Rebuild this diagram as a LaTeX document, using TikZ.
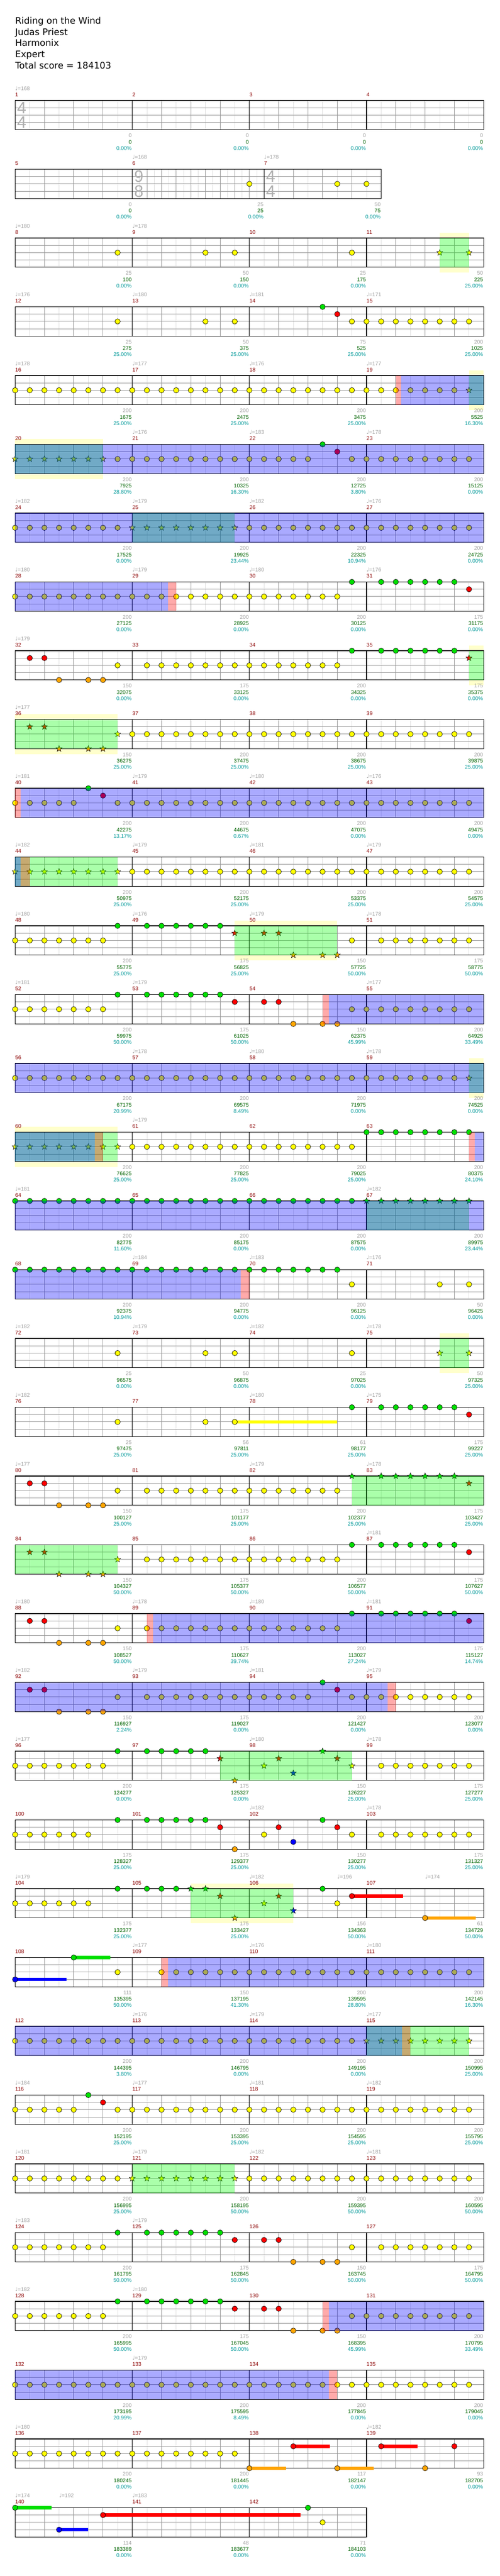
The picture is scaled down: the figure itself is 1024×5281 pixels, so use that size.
\documentclass[tikz,border=0pt]{standalone}
\usepackage{fontspec}
\setmainfont{DejaVu Sans}
\newfontfamily\lab{Liberation Sans}
\usetikzlibrary{shapes.geometric}
\definecolor{lane0}{RGB}{0,224,0}
\definecolor{lane1}{RGB}{255,0,0}
\definecolor{lane2}{RGB}{255,255,0}
\definecolor{lane3}{RGB}{0,0,255}
\definecolor{lane4}{RGB}{255,165,0}
\definecolor{ovg}{RGB}{0,255,0}
\definecolor{ovb}{RGB}{0,0,255}
\definecolor{ovr}{RGB}{255,0,0}
\definecolor{paley}{RGB}{255,255,204}
\definecolor{gridl}{RGB}{222,222,222}
\definecolor{gridm}{RGB}{150,150,150}
\definecolor{mred}{RGB}{139,0,0}
\definecolor{tgray}{RGB}{160,160,160}
\definecolor{sgreen}{RGB}{0,100,0}
\definecolor{pteal}{RGB}{0,153,153}
\definecolor{tsgray}{RGB}{175,175,175}
\tikzset{
  gl/.style={draw=gridl, line width=1pt},
  gm/.style={draw=gridm, line width=1pt},
  gk/.style={draw=black, line width=1.2pt},
  note/.style={circle, draw=black, line width=0.7pt, minimum size=11pt, inner sep=0pt},
  starn/.style={star, star points=5, star point ratio=2.4, draw=black, line width=0.6pt, minimum size=13pt, inner sep=0pt},
  lab/.style={anchor=east, inner sep=0pt, font=\lab\fontsize{11}{11}\selectfont},
  mnum/.style={anchor=west, inner sep=0pt, text=mred, font=\lab\fontsize{11}{11}\selectfont},
  tempo/.style={anchor=west, inner sep=0pt, text=tgray, font=\fontsize{11}{11}\selectfont},
  tsig/.style={inner sep=0pt, text=tsgray, font=\lab\fontsize{34}{34}\selectfont},
  title/.style={anchor=base west, inner sep=0pt, font=\fontsize{18.5}{23}\selectfont},
}
\newcommand\RY[1]{\pgfmathtruncatemacro\rowY{206+141*(#1-1)}}
\newcommand\Grid[2]{\RY{#1}\pgfmathtruncatemacro\rowR{31+240*#2}\pgfmathtruncatemacro\nE{8*#2-1}%
  \fill[white] (31,\rowY) rectangle (\rowR,\rowY+60);
  \foreach \k in {1,3,...,\nE} \draw[gl] (31+30*\k,\rowY) -- (31+30*\k,\rowY+60);
  \foreach \k in {1,2,3} \draw[gm] (31,\rowY+15*\k) -- (\rowR,\rowY+15*\k);
  \foreach \k in {2,4,...,\nE} {\pgfmathtruncatemacro\mm{mod(\k,8)}\ifnum\mm=0 \draw[gk] (31+30*\k,\rowY) -- (31+30*\k,\rowY+60);\else \draw[gm] (31+30*\k,\rowY) -- (31+30*\k,\rowY+60);\fi}
  \draw[gk] (31,\rowY) rectangle (\rowR,\rowY+60);}
\newcommand\Mn[3]{\RY{#1}\foreach \i in {1,...,#3}{\pgfmathtruncatemacro\mx{31+240*(\i-1)}\pgfmathtruncatemacro\mnum{#2+\i-1}\node[mnum] (m\mnum) at (\mx,\rowY-12) {\mnum};}}
\newcommand\Std[3]{\Grid{#1}{#3}\Mn{#1}{#2}{#3}}
\newcommand\Nt[3]{\RY{#1}\foreach \p in {#3} \node[note,fill=lane#2] (n#1-#2-\p) at (31+30*\p,\rowY+15*#2) {};}
\newcommand\St[3]{\RY{#1}\foreach \p in {#3} \node[starn,fill=lane#2] (s#1-#2-\p) at (31+30*\p,\rowY+15*#2) {};}
\newcommand\Su[4]{\RY{#1}\fill[lane#2] (31+30*#3,\rowY+15*#2-3.5) rectangle (#4,\rowY+15*#2+3.5); \node[note,fill=lane#2] (u#1-#2-#3) at (31+30*#3,\rowY+15*#2) {};}
\newcommand\Rg[4]{\RY{#1}\fill[#2,fill opacity=0.333] (#3,\rowY) rectangle (#4,\rowY+60);}
\newcommand\Yl[3]{\RY{#1}\fill[paley] (#2,\rowY-11) rectangle (#3,\rowY+71);}
\newcommand\Tp[2]{\RY{#1}\foreach \tx/\tb in {#2} \node[tempo] (t#1-\tx) at (\tx,\rowY-25) {♩{\lab=\tb}};}
\newcommand\TS[4]{\RY{#1}\node[tsig] (ts#1-#3) at (#2,\rowY+15) {#3}; \node[tsig] (tsb#1-#4) at (#2,\rowY+45) {#4};}
\newcommand\LabsF[2]{\RY{#1}\foreach \ga/\gb/\gc [count=\ci] in {#2}{\pgfmathtruncatemacro\lx{31+240*\ci}%
  \node[lab,text=tgray] (g#1-\ci) at (\lx-1,\rowY+72) {\ga};
  \node[lab,text=sgreen] (c#1-\ci) at (\lx-1,\rowY+85) {\gb};
  \node[lab,text=pteal] (p#1-\ci) at (\lx-1,\rowY+98) {\gc\%};}}
\newcommand\LabsX[2]{\RY{#1}\foreach \lx/\ga/\gb/\gc in {#2}{%
  \node[lab,text=tgray] (g#1-\lx) at (\lx-1,\rowY+72) {\ga};
  \node[lab,text=sgreen] (c#1-\lx) at (\lx-1,\rowY+85) {\gb};
  \node[lab,text=pteal] (p#1-\lx) at (\lx-1,\rowY+98) {\gc\%};}}
\begin{document}
\begin{tikzpicture}[x=1pt,y=-1pt]
\useasboundingbox (0,0) rectangle (1024,5281);
\fill[white] (0,0) rectangle (1024,5281);
\node[title] (ti1) at (31,49) {Riding on the Wind};
\node[title] (ti2) at (31,72) {Judas Priest};
\node[title] (ti3) at (31,95) {Harmonix};
\node[title] (ti4) at (31,118) {Expert};
\node[title] (ti5) at (31,141) {Total score = 184103};
% Row 1
\Std{1}{1}{4}
\TS{1}{44.5}{4}{4}
\Tp{1}{31/168}
\LabsF{1}{0/0/0.00,0/0/0.00,0/0/0.00,0/0/0.00}
% Row 2
\RY{2}
\fill[white] (31,\rowY) rectangle (781,\rowY+60);
\foreach \x in {61,121,181,241,286,316,346,376,406,436,466,496,526,571,631,691,751} \draw[gl] (\x,\rowY) -- (\x,\rowY+60);
\foreach \k in {1,2,3} \draw[gm] (31,\rowY+15*\k) -- (781,\rowY+15*\k);
\foreach \x in {91,151,211,301,331,361,391,421,451,481,511,601,661,721} \draw[gm] (\x,\rowY) -- (\x,\rowY+60);
\foreach \x in {271,541} \draw[gk] (\x,\rowY) -- (\x,\rowY+60);
\draw[gk] (31,\rowY) rectangle (781,\rowY+60);
\node[mnum] (m5) at (31,\rowY-12) {5};
\node[mnum] (m6) at (271,\rowY-12) {6};
\node[mnum] (m7) at (541,\rowY-12) {7};
\TS{2}{284.5}{9}{8}
\TS{2}{554.5}{4}{4}
\Tp{2}{271/168,541/178}
\Nt{2}{2}{16,22,24}
\LabsX{2}{271/0/0/0.00,541/25/25/0.00,781/50/75/0.00}
% Row 3
\Yl{3}{901}{961}
\Std{3}{8}{4}
\Tp{3}{31/180,271/178}
\Nt{3}{2}{7,13,15,23}
\St{3}{2}{29,31}
\Rg{3}{ovg}{901}{961}
\LabsF{3}{25/100/0.00,50/150/0.00,25/175/0.00,50/225/25.00}
% Row 4
\Std{4}{12}{4}
\Tp{4}{31/176,271/180,511/181,751/171}
\Nt{4}{2}{7,13,15,23,24,...,31}
\Nt{4}{0}{21}
\Nt{4}{1}{22}
\LabsF{4}{25/275/25.00,50/375/25.00,75/525/25.00,200/1025/25.00}
% Row 5
\Yl{5}{961}{991}
\Std{5}{16}{4}
\Tp{5}{31/178,271/177,511/176,751/177}
\Nt{5}{2}{0,1,...,30}
\St{5}{2}{31}
\Rg{5}{ovg}{961}{991}
\Rg{5}{ovr}{811}{822}
\Rg{5}{ovb}{822}{991}
\LabsF{5}{200/1675/25.00,200/2475/25.00,200/3475/25.00,200/5525/16.30}
% Row 6
\Yl{6}{31}{211}
\Std{6}{20}{4}
\Tp{6}{271/176,511/183,751/178}
\St{6}{2}{0,1,...,6}
\Nt{6}{2}{7,8,...,20,23,24,...,31}
\Nt{6}{0}{21}
\Nt{6}{1}{22}
\Rg{6}{ovg}{31}{211}
\Rg{6}{ovb}{31}{991}
\LabsF{6}{200/7925/28.80,200/10325/16.30,200/12725/3.80,200/15125/0.00}
% Row 7
\Std{7}{24}{4}
\Tp{7}{31/182,271/179,511/182,751/176}
\Nt{7}{2}{0,1,...,7,16,17,...,31}
\St{7}{2}{8,9,...,15}
\Rg{7}{ovg}{271}{481}
\Rg{7}{ovb}{31}{991}
\LabsF{7}{200/17525/0.00,200/19925/23.44,200/22325/10.94,200/24725/0.00}
% Row 8
\Std{8}{28}{4}
\Tp{8}{31/180,271/179,511/180,751/176}
\Nt{8}{2}{0,1,...,22}
\Nt{8}{0}{23,25,26,...,30}
\Nt{8}{1}{31}
\Rg{8}{ovb}{31}{344}
\Rg{8}{ovr}{344}{361}
\LabsF{8}{200/27125/0.00,200/28925/0.00,200/30125/0.00,175/31175/0.00}
% Row 9
\Yl{9}{961}{991}
\Std{9}{32}{4}
\Tp{9}{31/179}
\Nt{9}{1}{1,2}
\Nt{9}{4}{3,5,6}
\Nt{9}{2}{7,9,10,...,22}
\Nt{9}{0}{23,25,26,...,30}
\St{9}{1}{31}
\Rg{9}{ovg}{961}{991}
\LabsF{9}{150/32075/0.00,175/33125/0.00,200/34325/0.00,175/35375/0.00}
% Row 10
\Yl{10}{31}{241}
\Std{10}{36}{4}
\Tp{10}{31/177}
\St{10}{1}{1,2}
\St{10}{4}{3,5,6}
\St{10}{2}{7}
\Nt{10}{2}{8,9,...,31}
\Rg{10}{ovg}{31}{241}
\LabsF{10}{150/36275/25.00,200/37475/25.00,200/38675/25.00,200/39875/25.00}
% Row 11
\Std{11}{40}{4}
\Tp{11}{31/181,271/179,511/180,751/176}
\Nt{11}{2}{0,1,...,4,7,8,...,31}
\Nt{11}{0}{5}
\Nt{11}{1}{6}
\Rg{11}{ovr}{31}{42}
\Rg{11}{ovb}{42}{991}
\LabsF{11}{200/42275/13.17,200/44675/0.67,200/47075/0.00,200/49475/0.00}
% Row 12
\Std{12}{44}{4}
\Tp{12}{31/182,271/179,511/181,751/179}
\St{12}{2}{0,1,...,7}
\Nt{12}{2}{8,9,...,31}
\Rg{12}{ovg}{31}{241}
\Rg{12}{ovb}{31}{42}
\Rg{12}{ovr}{42}{61}
\LabsF{12}{200/50975/25.00,200/52175/25.00,200/53375/25.00,200/54575/25.00}
% Row 13
\Yl{13}{481}{691}
\Std{13}{48}{4}
\Tp{13}{31/180,271/176,511/179,751/178}
\Nt{13}{2}{0,1,...,6,23,25,26,...,31}
\Nt{13}{0}{7,9,10,...,14}
\St{13}{1}{15,17,18}
\St{13}{4}{19,21,22}
\Rg{13}{ovg}{481}{691}
\LabsF{13}{200/55775/25.00,175/56825/25.00,150/57725/50.00,175/58775/50.00}
% Row 14
\Std{14}{52}{4}
\Tp{14}{31/181,271/179,751/177}
\Nt{14}{2}{0,1,...,6,23,24,...,31}
\Nt{14}{0}{7,9,10,...,14}
\Nt{14}{1}{15,17,18}
\Nt{14}{4}{19,21,22}
\Rg{14}{ovr}{661}{674}
\Rg{14}{ovb}{674}{991}
\LabsF{14}{200/59975/50.00,175/61025/50.00,150/62375/45.99,200/64925/33.49}
% Row 15
\Yl{15}{961}{991}
\Std{15}{56}{4}
\Tp{15}{271/178,511/180,751/178}
\Nt{15}{2}{0,1,...,30}
\St{15}{2}{31}
\Rg{15}{ovg}{961}{991}
\Rg{15}{ovb}{31}{991}
\LabsF{15}{200/67175/20.99,200/69575/8.49,200/71975/0.00,200/74525/0.00}
% Row 16
\Yl{16}{31}{241}
\Std{16}{60}{4}
\Tp{16}{271/179}
\St{16}{2}{0,1,...,7}
\Nt{16}{2}{8,9,...,23}
\Nt{16}{0}{24,25,...,31}
\Rg{16}{ovg}{31}{241}
\Rg{16}{ovb}{31}{194}
\Rg{16}{ovr}{194}{211}
\Rg{16}{ovr}{961}{973}
\Rg{16}{ovb}{973}{991}
\LabsF{16}{200/76625/25.00,200/77825/25.00,200/79025/25.00,200/80375/24.10}
% Row 17
\Std{17}{64}{4}
\Tp{17}{31/181,751/182}
\Nt{17}{0}{0,1,...,23}
\St{17}{0}{24,25,...,31}
\Rg{17}{ovg}{751}{961}
\Rg{17}{ovb}{31}{991}
\LabsF{17}{200/82775/11.60,200/85175/0.00,200/87575/0.00,200/89975/23.44}
% Row 18
\Std{18}{68}{4}
\Tp{18}{271/184,511/183,751/176}
\Nt{18}{0}{0,1,...,22}
\Nt{18}{2}{23,29,31}
\Rg{18}{ovb}{31}{493}
\Rg{18}{ovr}{493}{511}
\LabsF{18}{200/92375/10.94,200/94775/0.00,200/96125/0.00,50/96425/0.00}
% Row 19
\Yl{19}{901}{961}
\Std{19}{72}{4}
\Tp{19}{31/182,271/179,511/182,751/178}
\Nt{19}{2}{7,13,15,23}
\St{19}{2}{29,31}
\Rg{19}{ovg}{901}{961}
\LabsF{19}{25/96575/0.00,50/96875/0.00,25/97025/0.00,50/97325/25.00}
% Row 20
\Std{20}{76}{4}
\Tp{20}{31/182,511/180,751/175}
\Su{20}{2}{15}{691}
\Nt{20}{2}{7,13}
\Nt{20}{0}{23,25,26,...,30}
\Nt{20}{1}{31}
\LabsF{20}{25/97475/25.00,56/97811/25.00,61/98177/25.00,175/99227/25.00}
% Row 21
\Std{21}{80}{4}
\Tp{21}{31/177,511/179,751/178}
\Nt{21}{1}{1,2}
\Nt{21}{4}{3,5,6}
\Nt{21}{2}{7,9,10,...,22}
\St{21}{0}{23,25,26,...,30}
\St{21}{1}{31}
\Rg{21}{ovg}{721}{991}
\LabsF{21}{150/100127/25.00,175/101177/25.00,200/102377/25.00,175/103427/25.00}
% Row 22
\Std{22}{84}{4}
\Tp{22}{751/181}
\St{22}{1}{1,2}
\St{22}{4}{3,5,6}
\St{22}{2}{7}
\Nt{22}{2}{9,10,...,22}
\Nt{22}{0}{23,25,26,...,30}
\Nt{22}{1}{31}
\Rg{22}{ovg}{31}{241}
\LabsF{22}{150/104327/50.00,175/105377/50.00,200/106577/50.00,175/107627/50.00}
% Row 23
\Std{23}{88}{4}
\Tp{23}{31/180,271/178,511/180,751/181}
\Nt{23}{1}{1,2,31}
\Nt{23}{4}{3,5,6}
\Nt{23}{2}{7,9,10,...,22}
\Nt{23}{0}{23,25,26,...,30}
\Rg{23}{ovr}{301}{314}
\Rg{23}{ovb}{314}{991}
\LabsF{23}{150/108527/50.00,175/110627/39.74,200/113027/27.24,175/115127/14.74}
% Row 24
\Std{24}{92}{4}
\Tp{24}{31/182,271/179,511/181,751/179}
\Nt{24}{1}{1,2,22}
\Nt{24}{4}{3,5,6}
\Nt{24}{2}{7,9,10,...,20,23,24,...,31}
\Nt{24}{0}{21}
\Rg{24}{ovb}{31}{794}
\Rg{24}{ovr}{794}{811}
\LabsF{24}{150/116927/2.24,175/119027/0.00,200/121427/0.00,200/123077/0.00}
% Row 25
\Std{25}{96}{4}
\Tp{25}{31/177,511/180,751/178}
\Nt{25}{2}{0,1,...,6,25,26,...,31}
\Nt{25}{0}{7,9,10,...,13}
\St{25}{1}{14,18,22}
\St{25}{4}{15}
\St{25}{2}{17,23}
\St{25}{3}{19}
\St{25}{0}{21}
\Rg{25}{ovg}{451}{721}
\LabsF{25}{200/124277/0.00,175/125327/0.00,150/126227/25.00,175/127277/25.00}
% Row 26
\Std{26}{100}{4}
\Tp{26}{511/182,751/178}
\Nt{26}{2}{0,1,...,5,17,23,25,26,...,31}
\Nt{26}{0}{7,9,10,...,13,21}
\Nt{26}{1}{14,18,22}
\Nt{26}{4}{15}
\Nt{26}{3}{19}
\LabsF{26}{175/128327/25.00,175/129377/25.00,150/130277/25.00,175/131327/25.00}
% Row 27
\Yl{27}{391}{601}
\Std{27}{104}{4}
\Tp{27}{31/179,511/182,691/196,871/174}
\Nt{27}{2}{0,1,...,5,22}
\Nt{27}{0}{7,9,10,11,21}
\St{27}{0}{12,13}
\St{27}{1}{14,18}
\St{27}{4}{15}
\St{27}{2}{17}
\St{27}{3}{19}
\Su{27}{1}{23}{826}
\Su{27}{4}{28}{975}
\Rg{27}{ovg}{391}{601}
\LabsF{27}{175/132377/25.00,175/133427/25.00,156/134363/50.00,61/134729/50.00}
% Row 28
\Std{28}{108}{4}
\Tp{28}{271/177,511/176,751/180}
\Su{28}{3}{0}{136}
\Su{28}{0}{4}{226}
\Nt{28}{2}{7,10,11,...,31}
\Rg{28}{ovr}{331}{344}
\Rg{28}{ovb}{344}{991}
\LabsF{28}{111/135395/50.00,150/137195/41.30,200/139595/28.80,200/142145/16.30}
% Row 29
\Std{29}{112}{4}
\Tp{29}{271/176,511/179,751/177}
\Nt{29}{2}{0,1,...,23}
\St{29}{2}{24,25,...,31}
\Rg{29}{ovg}{751}{961}
\Rg{29}{ovb}{31}{824}
\Rg{29}{ovr}{824}{841}
\LabsF{29}{200/144395/3.80,200/146795/0.00,200/149195/0.00,200/150995/25.00}
% Row 30
\Std{30}{116}{4}
\Tp{30}{31/184,271/177,511/181,751/182}
\Nt{30}{2}{0,1,...,4,7,8,...,31}
\Nt{30}{0}{5}
\Nt{30}{1}{6}
\LabsF{30}{200/152195/25.00,200/153395/25.00,200/154595/25.00,200/155795/25.00}
% Row 31
\Std{31}{120}{4}
\Tp{31}{31/181,271/179,511/182,751/181}
\Nt{31}{2}{0,1,...,7,16,17,...,31}
\St{31}{2}{8,9,...,15}
\Rg{31}{ovg}{271}{481}
\LabsF{31}{200/156995/25.00,200/158195/50.00,200/159395/50.00,200/160595/50.00}
% Row 32
\Std{32}{124}{4}
\Tp{32}{31/183,271/179}
\Nt{32}{2}{0,1,...,6,23,25,26,...,31}
\Nt{32}{0}{7,9,10,...,14}
\Nt{32}{1}{15,17,18}
\Nt{32}{4}{19,21,22}
\LabsF{32}{200/161795/50.00,175/162845/50.00,150/163745/50.00,175/164795/50.00}
% Row 33
\Std{33}{128}{4}
\Tp{33}{31/182,271/180}
\Nt{33}{2}{0,1,...,6,23,24,...,31}
\Nt{33}{0}{7,9,10,...,14}
\Nt{33}{1}{15,17,18}
\Nt{33}{4}{19,21,22}
\Rg{33}{ovr}{661}{674}
\Rg{33}{ovb}{674}{991}
\LabsF{33}{200/165995/50.00,175/167045/50.00,150/168395/45.99,200/170795/33.49}
% Row 34
\Std{34}{132}{4}
\Tp{34}{271/179}
\Nt{34}{2}{0,1,...,31}
\Rg{34}{ovb}{31}{674}
\Rg{34}{ovr}{674}{691}
\LabsF{34}{200/173195/20.99,200/175595/8.49,200/177845/0.00,200/179045/0.00}
% Row 35
\Std{35}{136}{4}
\Tp{35}{31/180,751/182}
\Nt{35}{2}{0,1,...,15}
\Su{35}{4}{16}{586}
\Su{35}{1}{19}{676}
\Su{35}{4}{22}{766}
\Su{35}{1}{25}{856}
\Nt{35}{4}{28}
\Nt{35}{1}{30}
\LabsF{35}{200/180245/0.00,200/181445/0.00,117/182147/0.00,93/182705/0.00}
% Row 36
\Std{36}{140}{3}
\Tp{36}{31/174,121/192,271/183}
\Su{36}{0}{0}{106}
\Su{36}{3}{3}{181}
\Su{36}{1}{6}{616}
\Nt{36}{0}{20}
\Nt{36}{2}{21}
\LabsF{36}{114/183389/0.00,48/183677/0.00,71/184103/0.00}
\end{tikzpicture}
\end{document}
